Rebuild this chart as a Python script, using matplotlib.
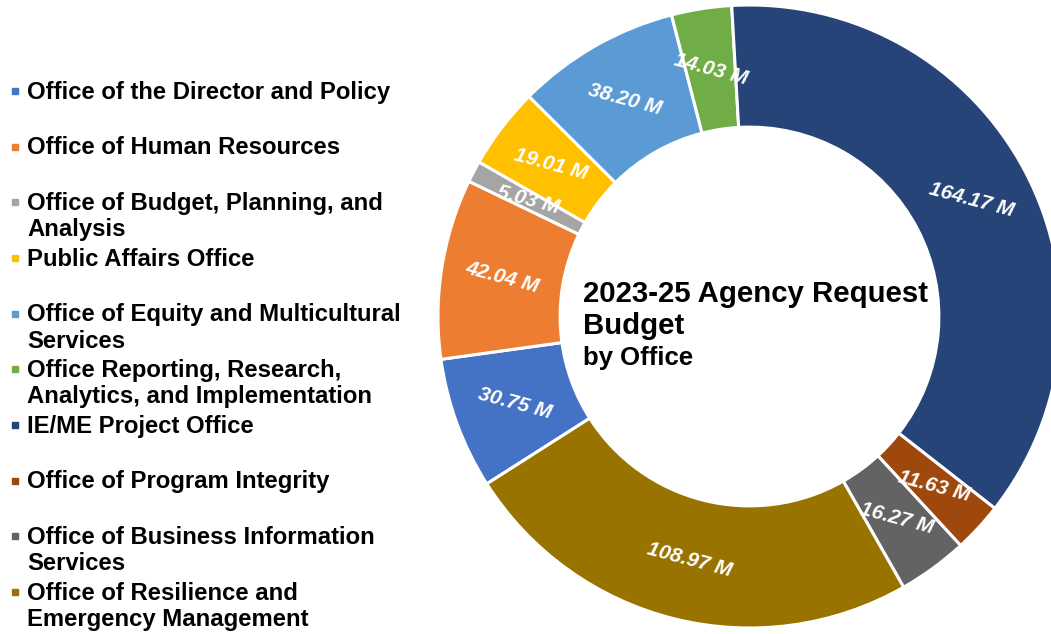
import matplotlib
matplotlib.use("Agg")
import matplotlib.pyplot as plt
from matplotlib.patches import Rectangle

# ---- data ----
offices = [
    "Office of the Director and Policy",
    "Office of Human Resources",
    "Office of Budget, Planning, and\nAnalysis",
    "Public Affairs Office",
    "Office of Equity and Multicultural\nServices",
    "Office Reporting, Research,\nAnalytics, and Implementation",
    "IE/ME Project Office",
    "Office of Program Integrity",
    "Office of Business Information\nServices",
    "Office of Resilience and\nEmergency Management",
]
values = [30.75, 42.04, 5.03, 19.01, 38.20, 14.03, 164.17, 11.63, 16.27, 108.97]
colors = ["#4472C4", "#ED7D31", "#A5A5A5", "#FFC000", "#5B9BD5",
          "#70AD47", "#264478", "#9E480E", "#636363", "#997300"]
value_labels = [f"{v:.2f} M" for v in values]
title_lines = ["2023-25 Agency Request", "Budget", "by Office"]

FONT = "Liberation Sans"
W, H = 1051, 634
fig = plt.figure(figsize=(W / 100, H / 100), dpi=100)


def fy(y):
    return 1 - y / H


# ---- donut ----
cx, cy, R = 749.5, 316.5, 311.5
ax = fig.add_axes([(cx - R) / W, (H - cy - R) / H, 2 * R / W, 2 * R / H])
wedges, texts = ax.pie(
    values, colors=colors, startangle=212.5, counterclock=False, radius=1,
    wedgeprops=dict(width=0.392, edgecolor="white", linewidth=2.2),
    labels=value_labels, labeldistance=0.804,
)
ax.set_xlim(-1, 1)
ax.set_ylim(-1, 1)
ax.set_aspect("equal")
for w in wedges:
    w.set_clip_on(False)
for t in texts:
    t.set_ha("center")
    t.set_va("center")
    t.set_rotation(-15)
    t.set_rotation_mode("anchor")
    t.set_color("white")
    t.set_fontsize(15)
    t.set_fontweight("bold")
    t.set_fontstyle("italic")
    t.set_family(FONT)

# ---- center title ----
fig.text(583 / W, fy(302), title_lines[0], fontsize=21.2, fontweight="bold",
         family=FONT, va="baseline", ha="left")
fig.text(583 / W, fy(334), title_lines[1], fontsize=21.2, fontweight="bold",
         family=FONT, va="baseline", ha="left")
fig.text(583 / W, fy(365.5), title_lines[2], fontsize=18.5, fontweight="bold",
         family=FONT, va="baseline", ha="left")

# ---- legend ----
for i, lab in enumerate(offices):
    base = 98.5 + i * 55.67
    for k, line in enumerate(lab.split("\n")):
        fig.text(27 / W, fy(base + k * 26.5), line, fontsize=17.2,
                 fontweight="bold", family=FONT, va="baseline", ha="left")
    fig.patches.append(Rectangle((11.5 / W, fy(base - 4.5)), 6 / W, 6 / H,
                                 transform=fig.transFigure, color=colors[i]))

fig.savefig("out.png", dpi=100)
